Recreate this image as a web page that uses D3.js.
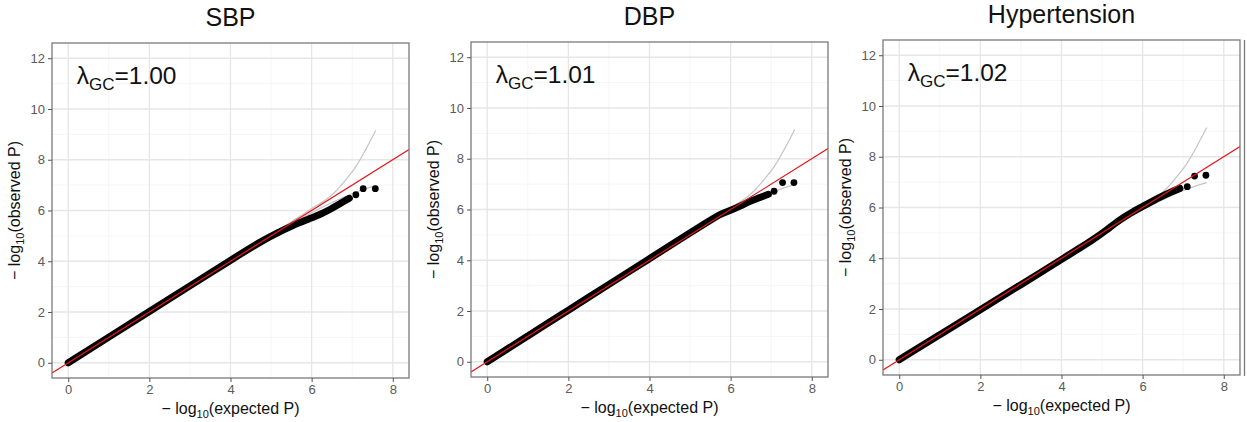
<!DOCTYPE html>
<html>
<head>
<meta charset="utf-8">
<script src="https://cdn.jsdelivr.net/npm/d3@7"></script>
<style>
  body { margin: 0; background: #fff; }
  svg text { font-family: "Liberation Sans", Arial, sans-serif; }
</style>
</head>
<body>
<svg id="chart" width="1247" height="422"></svg>
<script>
// panel titles and lambda values
var panelTitles = ["SBP", "DBP", "Hypertension"];
var lambdaGC = ["1.00", "1.01", "1.02"];

var xTicks = [0, 2, 4, 6, 8];
var yTicks = [0, 2, 4, 6, 8, 10, 12];

// dense part of the QQ points (drawn as a thick band)
var sbpExpected = [0, 1, 2, 3, 4, 4.8, 5.2, 5.5, 5.7, 5.95, 6.2, 6.45, 6.7, 6.93];
var sbpObserved = [0, 1.01, 2.02, 3.03, 4.04, 4.83, 5.16, 5.38, 5.52, 5.68, 5.84, 6.03, 6.27, 6.48];
var sbpTailExp = [7.09, 7.27, 7.57];
var sbpTailObs = [6.62, 6.86, 6.86];

var dbpExpected = [0, 1, 2, 3, 4, 5, 5.5, 5.75, 6.0, 6.23, 6.48, 6.73, 6.93];
var dbpObserved = [0, 1.02, 2.03, 3.05, 4.06, 5.08, 5.58, 5.82, 5.97, 6.12, 6.33, 6.48, 6.6];
var dbpTailExp = [7.07, 7.28, 7.56];
var dbpTailObs = [6.72, 7.06, 7.06];

var htnExpected = [0, 1, 2, 3, 4, 4.85, 5.1, 5.45, 5.7, 6.0, 6.35, 6.68, 6.92];
var htnObserved = [0, 0.99, 1.97, 2.96, 3.95, 4.8, 5.1, 5.53, 5.78, 6.04, 6.35, 6.6, 6.75];
var htnTailExp = [7.1, 7.28, 7.56];
var htnTailObs = [6.82, 7.24, 7.27];

// confidence band (same for all three panels)
var ciExpected = [0, 2, 4, 5.0, 5.5, 5.77, 6.02, 6.35, 6.59, 6.84, 7.09, 7.33, 7.58];
var ciUpper =    [0, 2, 4, 5.03, 5.56, 5.83, 6.1, 6.42, 6.75, 7.21, 7.73, 8.39, 9.15];
var ciLower =    [0, 2, 4, 4.97, 5.44, 5.7, 5.93, 6.2, 6.38, 6.56, 6.72, 6.86, 6.98];

var panels = [
  { exp: sbpExpected, obs: sbpObserved, tx: sbpTailExp, ty: sbpTailObs, left: 52, top: 43 },
  { exp: dbpExpected, obs: dbpObserved, tx: dbpTailExp, ty: dbpTailObs, left: 471, top: 42 },
  { exp: htnExpected, obs: htnObserved, tx: htnTailExp, ty: htnTailObs, left: 883, top: 40 }
];

var pw = 357, ph = 335;
var svg = d3.select("#chart");

panels.forEach(function(p, i) {
  var g = svg.append("g").attr("transform", "translate(" + p.left + "," + p.top + ")");
  var x = d3.scaleLinear().domain([-0.4, 8.4]).range([0, pw]);
  var y = d3.scaleLinear().domain([-0.6, 12.6]).range([ph, 0]);

  g.append("rect").attr("width", pw).attr("height", ph).attr("fill", "#fff");

  // minor grid
  var minorX = [1, 3, 5, 7], minorY = [1, 3, 5, 7, 9, 11];
  g.selectAll(".mx").data(minorX).enter().append("line")
    .attr("x1", d => x(d)).attr("x2", d => x(d)).attr("y1", 0).attr("y2", ph)
    .attr("stroke", "#f3f3f3").attr("stroke-width", 0.8);
  g.selectAll(".my").data(minorY).enter().append("line")
    .attr("y1", d => y(d)).attr("y2", d => y(d)).attr("x1", 0).attr("x2", pw)
    .attr("stroke", "#f3f3f3").attr("stroke-width", 0.8);
  // major grid
  g.selectAll(".gx").data(xTicks).enter().append("line")
    .attr("x1", d => x(d)).attr("x2", d => x(d)).attr("y1", 0).attr("y2", ph)
    .attr("stroke", "#e6e6e6").attr("stroke-width", 1.3);
  g.selectAll(".gy").data(yTicks).enter().append("line")
    .attr("y1", d => y(d)).attr("y2", d => y(d)).attr("x1", 0).attr("x2", pw)
    .attr("stroke", "#e6e6e6").attr("stroke-width", 1.3);

  var clipId = "clip" + i;
  g.append("clipPath").attr("id", clipId).append("rect").attr("width", pw).attr("height", ph);
  var plot = g.append("g").attr("clip-path", "url(#" + clipId + ")");

  var line = d3.line().x(d => x(d[0])).y(d => y(d[1])).curve(d3.curveMonotoneX);
  var band = d3.line().x(d => x(d[0])).y(d => y(d[1])).curve(d3.curveBasis);

  // confidence lines
  plot.append("path").datum(d3.zip(ciExpected, ciUpper)).attr("d", line)
    .attr("fill", "none").attr("stroke", "#c4c4c4").attr("stroke-width", 1.2);
  plot.append("path").datum(d3.zip(ciExpected, ciLower)).attr("d", line)
    .attr("fill", "none").attr("stroke", "#c4c4c4").attr("stroke-width", 1.2);

  // dense points
  plot.append("path").datum(d3.zip(p.exp, p.obs)).attr("d", band)
    .attr("fill", "none").attr("stroke", "#000").attr("stroke-width", 7)
    .attr("stroke-linecap", "round").attr("stroke-linejoin", "round");
  plot.selectAll(".pt").data(d3.zip(p.tx, p.ty)).enter().append("circle")
    .attr("cx", d => x(d[0])).attr("cy", d => y(d[1])).attr("r", 3.4).attr("fill", "#000");

  // y = x
  plot.append("line")
    .attr("x1", x(-0.4)).attr("y1", y(-0.4)).attr("x2", x(8.4)).attr("y2", y(8.4))
    .attr("stroke", "#e8141a").attr("stroke-width", 1.2);

  // border
  g.append("rect").attr("width", pw).attr("height", ph)
    .attr("fill", "none").attr("stroke", "#7a7a7a").attr("stroke-width", 1.3);

  // axes
  var xAxis = g.append("g").attr("transform", "translate(0," + ph + ")")
    .call(d3.axisBottom(x).tickValues(xTicks).tickSize(4).tickPadding(3));
  var yAxis = g.append("g")
    .call(d3.axisLeft(y).tickValues(yTicks).tickSize(4).tickPadding(3));
  [xAxis, yAxis].forEach(function(a) {
    a.select(".domain").remove();
    a.selectAll("line").attr("stroke", "#555");
    a.selectAll("text").attr("fill", "#5a5a5a").style("font-size", "13px")
      .style("font-family", "'Liberation Sans', Arial, sans-serif");
  });

  // title
  g.append("text").attr("x", pw / 2).attr("y", -17).attr("text-anchor", "middle")
    .style("font-size", "25px").attr("fill", "#111").text(panelTitles[i]);

  // lambda annotation
  var lt = g.append("text").attr("x", x(0.21)).attr("y", y(10.98))
    .style("font-size", "24.5px").attr("fill", "#111");
  lt.append("tspan").text("λ");
  lt.append("tspan").attr("dy", 6).style("font-size", "17px").text("GC");
  lt.append("tspan").attr("dy", -6).text("=" + lambdaGC[i]);

  // x title
  var xt = g.append("text").attr("x", pw / 2).attr("y", ph + 36).attr("text-anchor", "middle")
    .style("font-size", "16px").attr("fill", "#111");
  xt.append("tspan").text("\u2212 log");
  xt.append("tspan").attr("dy", 4).style("font-size", "11px").text("10");
  xt.append("tspan").attr("dy", -4).text("(expected P)");

  // y title
  var yt = g.append("text")
    .attr("transform", "translate(" + (-32) + "," + (ph / 2) + ") rotate(-90)")
    .attr("text-anchor", "middle").style("font-size", "16px").attr("fill", "#111");
  yt.append("tspan").text("\u2212 log");
  yt.append("tspan").attr("dy", 4).style("font-size", "11px").text("10");
  yt.append("tspan").attr("dy", -4).text("(observed P)");
});

// edge of a further panel at the right margin
svg.append("line").attr("x1", 1244.5).attr("x2", 1244.5).attr("y1", 40).attr("y2", 376)
  .attr("stroke", "#7a7a7a").attr("stroke-width", 1.3);
</script>
</body>
</html>
